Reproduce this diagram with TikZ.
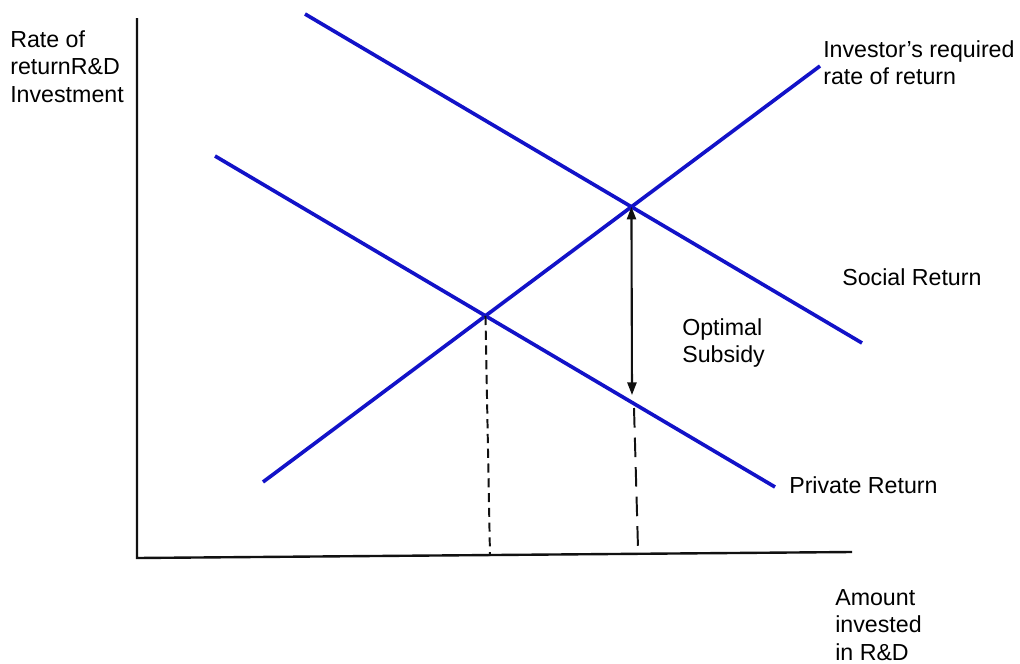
\documentclass[tikz,border=0pt]{standalone}
\usepackage{fontspec}
\setmainfont{Liberation Sans}
\usepackage{xcolor}
\usepackage{tikz}
\usetikzlibrary{arrows.meta,positioning}
\definecolor{curveblue}{HTML}{1212C8}
\definecolor{ink}{HTML}{111111}
\tikzset{
  curve/.style={draw=curveblue,line width=2.6pt},
  axisline/.style={draw=ink,line width=1.7pt},
  guideshort/.style={draw=ink,line width=1.4pt,dash pattern=on 6.5pt off 4pt},
  guidelong/.style={draw=ink,line width=1.4pt,dash pattern=on 14pt off 7pt},
  gaparrow/.style={{Triangle[length=9pt,width=6.5pt]}-{Triangle[length=9pt,width=6.5pt]},line width=1.5pt,draw=ink},
  lbl/.style={anchor=north west,align=left,inner sep=0pt,font=\fontsize{16.5}{19.6}\selectfont}
}

\begin{document}
\begin{tikzpicture}[x=0.025cm,y=-0.025cm]
\useasboundingbox[fill=white] (0,0) rectangle (1020,664);
% axes
\coordinate (ytop) at (137,18);
\coordinate (origin) at (137,558);
\coordinate (xend) at (852,552);
\draw[axisline] (ytop) -- (origin) -- (xend);
% curves
\coordinate (social0) at (305,14);
\coordinate (social1) at (862,343);
\coordinate (private0) at (215,156);
\coordinate (private1) at (775,487);
\coordinate (inv0) at (263,482);
\coordinate (inv1) at (820,66);
\draw[curve] (social0) -- (social1);
\draw[curve] (private0) -- (private1);
\draw[curve] (inv0) -- (inv1);
\coordinate (eqpriv) at (intersection of private0--private1 and inv0--inv1);
\coordinate (eqsoc) at (intersection of social0--social1 and inv0--inv1);
% subsidy gap
\coordinate (gapend) at (632,395);
\draw[gaparrow] (eqsoc) -- (gapend);
% guides down to the axis
\coordinate (footpriv) at (490,556);
\coordinate (topsoc) at (634,408);
\coordinate (footsoc) at (638,548);
\draw[guideshort] (eqpriv) -- (footpriv);
\draw[guidelong] (topsoc) -- (footsoc);
% labels
\node[lbl] (ylabel) at (10,30) {Rate of\\returnR\&D\\Investment};
\node[lbl] (invlabel) at (823,40) {Investor's required\\rate of return};
\node[lbl] (soclabel) at (842,268) {Social Return};
\node[lbl] (subsidy) at (682,318) {Optimal\\Subsidy};
\node[lbl] (privlabel) at (789,476) {Private Return};
\node[lbl] (xlabel) at (835,589) {Amount\\invested\\in R\&D};
\end{tikzpicture}
\end{document}
